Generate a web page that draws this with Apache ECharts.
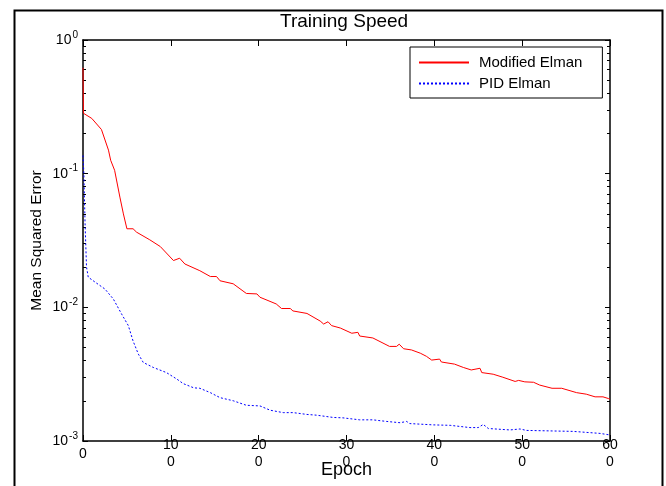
<!DOCTYPE html>
<html>
<head>
<meta charset="utf-8">
<script src="https://cdn.jsdelivr.net/npm/echarts@6/dist/echarts.min.js"></script>
<style>
  html, body { margin: 0; padding: 0; background: #fff; }
  #chart { width: 666px; height: 486px; }
</style>
</head>
<body>
<div id="chart"></div>
<script>
// [epoch, mse]
const modifiedElman = [
  [0, 0.62], [0.5, 0.283], [10, 0.259], [21, 0.214], [29, 0.150], [31.5, 0.126], [36, 0.106],
  [42, 0.0668], [46, 0.050], [50, 0.0387], [57, 0.0387], [61, 0.0365], [76, 0.032], [88, 0.0285],
  [103, 0.0224], [110, 0.0233], [116, 0.0211], [133, 0.0188], [145, 0.017], [152, 0.017],
  [156, 0.0158], [171, 0.015], [186, 0.0127], [198, 0.0126], [201.5, 0.0119], [220, 0.0106],
  [226, 0.0098], [236, 0.0098], [239, 0.0094], [255, 0.009], [270, 0.0079], [274, 0.0075],
  [279, 0.0078], [283, 0.0073], [293, 0.007], [306, 0.0064], [313, 0.0065], [315, 0.0061],
  [330, 0.0059], [349, 0.0051], [357, 0.0051], [360, 0.0053], [365, 0.0049], [374, 0.0048],
  [384, 0.00454], [391, 0.0043], [397, 0.00403], [406, 0.0041], [408, 0.0039], [423, 0.00376],
  [433, 0.00355], [442, 0.0034], [452, 0.0035], [454, 0.00325], [467, 0.00316], [478, 0.0030],
  [492, 0.00279], [496, 0.00284], [503, 0.00277], [513, 0.00275], [520, 0.00262], [534, 0.00248],
  [545, 0.00248], [547, 0.0024], [562, 0.0023], [573, 0.00224], [583, 0.00214], [592, 0.00214],
  [593, 0.0022], [598, 0.00208], [600, 0.00205]
]
const pidElman = [
  [0, 0.137], [1, 0.1], [2.3, 0.0434], [4, 0.02], [6, 0.0168], [14, 0.0154], [25, 0.0137],
  [34.5, 0.01155], [44, 0.0089], [51.6, 0.0073], [57, 0.0056], [63, 0.00447], [68.6, 0.00387],
  [80, 0.00355], [95, 0.00325], [107, 0.0029], [114, 0.00269], [126, 0.0025], [133, 0.00248],
  [145, 0.0023], [156, 0.00211], [171, 0.002], [186, 0.00185], [201.5, 0.00183], [213, 0.0017],
  [228, 0.00163], [239.5, 0.00163], [255, 0.00158], [266, 0.00156], [285, 0.0015], [296, 0.00149],
  [315, 0.00144], [330, 0.00144], [346, 0.0014], [361, 0.00137], [368.5, 0.0014], [372, 0.00135],
  [399, 0.00132], [418, 0.00131], [440.6, 0.00126], [450, 0.00126], [455.7, 0.00133],
  [461.5, 0.00124], [486, 0.00121], [497.5, 0.00123], [505, 0.0012], [531.6, 0.00119],
  [558, 0.00118], [581, 0.00115], [588.6, 0.00114], [596, 0.00112], [600, 0.00111]
]
const seriesNames = ['Modified Elman', 'PID Elman']
const xTicks = [0, 100, 200, 300, 400, 500, 600]
// minor ticks between decades (2..9 x 10^k)
const minorTicks = [
  0.002, 0.003, 0.004, 0.005, 0.006, 0.007, 0.008, 0.009,
  0.02, 0.03, 0.04, 0.05, 0.06, 0.07, 0.08, 0.09,
  0.2, 0.3, 0.4, 0.5, 0.6, 0.7, 0.8, 0.9
]

const font = '"Liberation Sans", Arial, Helvetica, sans-serif'

const chart = echarts.init(document.getElementById('chart'))

// the x labels are wrapped in the original: "10" over "0"
function wrapLabel(v) {
  const s = String(v)
  return s.length > 1 ? s.slice(0, -1) + '\n' + s.slice(-1) : s
}

function logLabel(v) {
  const e = Math.round(Math.log10(v))
  return '10{sup|' + e + '}'
}

const black = '#000'
const yBase = {
  type: 'log',
  logBase: 10,
  min: 0.001,
  max: 1,
  splitLine: { show: false },
  minorTick: { show: false }
}

chart.setOption({
  animation: false,
  backgroundColor: '#fff',
  textStyle: { fontFamily: font, color: black },
  title: {
    text: 'Training Speed',
    left: 275,
    top: 7,
    textStyle: { fontFamily: font, fontSize: 19, fontWeight: 'normal', color: black }
  },
  graphic: [{
    type: 'rect',
    left: 12, top: 8,
    shape: { width: 648, height: 500 },
    style: { fill: 'none', stroke: black, lineWidth: 2 },
    silent: true
  }],
  legend: {
    data: seriesNames,
    orient: 'vertical',
    left: 410,
    top: 47,
    padding: [8, 20, 7, 8],
    itemWidth: 50,
    itemHeight: 14,
    itemGap: 6,
    itemStyle: { opacity: 0 },
    backgroundColor: '#fff',
    borderColor: black,
    borderWidth: 1,
    borderRadius: 0,
    textStyle: { fontFamily: font, fontSize: 15, color: black, padding: [0, 0, 0, 5] }
  },
  grid: { left: 83, right: 56, top: 40, bottom: 45, containLabel: false, outerBoundsMode: 'none' },
  xAxis: [{
    type: 'value',
    position: 'bottom',
    min: 0, max: 600, interval: 100,
    name: 'Epoch',
    nameLocation: 'middle',
    nameGap: 20,
    nameMoveOverlap: false,
    nameTextStyle: { fontFamily: font, fontSize: 18, color: black },
    axisLine: { lineStyle: { color: black, width: 1.5 } },
    axisTick: { inside: true, length: 6, lineStyle: { color: black } },
    axisLabel: {
      fontFamily: font, fontSize: 14, color: black,
      margin: 13, verticalAlign: 'middle', lineHeight: 17,
      customValues: xTicks,
      formatter: wrapLabel
    },
    splitLine: { show: false }
  }, {
    type: 'value',
    position: 'top',
    min: 0, max: 600, interval: 100,
    axisLine: { lineStyle: { color: black, width: 1.5 } },
    axisTick: { inside: true, length: 6, lineStyle: { color: black } },
    axisLabel: { show: false },
    splitLine: { show: false }
  }],
  yAxis: [Object.assign({}, yBase, {
    position: 'left',
    name: 'Mean Squared Error',
    nameLocation: 'middle',
    nameGap: 38,
    nameMoveOverlap: false,
    nameTextStyle: { fontFamily: font, fontSize: 15.5, color: black },
    axisLine: { show: true, lineStyle: { color: black, width: 1.5 } },
    axisTick: { inside: true, length: 5, lineStyle: { color: black } },
    axisLabel: {
      margin: 5,
      color: black,
      formatter: logLabel,
      rich: {
        sup: { fontFamily: font, fontSize: 10, color: black, padding: [0, 0, 10, 1] }
      },
      fontFamily: font, fontSize: 14
    }
  }), Object.assign({}, yBase, {
    position: 'left',
    axisLine: { show: false },
    axisTick: { show: true, inside: true, length: 3, customValues: minorTicks, lineStyle: { color: black } },
    axisLabel: { show: false }
  }), Object.assign({}, yBase, {
    position: 'right',
    axisLine: { show: true, lineStyle: { color: black, width: 1.5 } },
    axisTick: { inside: true, length: 5, lineStyle: { color: black } },
    axisLabel: { show: false }
  }), Object.assign({}, yBase, {
    position: 'right',
    axisLine: { show: false },
    axisTick: { show: true, inside: true, length: 3, customValues: minorTicks, lineStyle: { color: black } },
    axisLabel: { show: false }
  })],
  series: [{
    name: seriesNames[0],
    type: 'line',
    data: modifiedElman,
    symbol: 'none',
    showSymbol: false,
    color: '#ff0000',
    lineStyle: { color: '#ff0000', width: 1 }
  }, {
    name: seriesNames[1],
    type: 'line',
    data: pidElman,
    symbol: 'none',
    showSymbol: false,
    color: '#0000ff',
    lineStyle: { color: '#0000ff', width: 1, type: [2, 2] }
  }]
})
</script>
</body>
</html>
